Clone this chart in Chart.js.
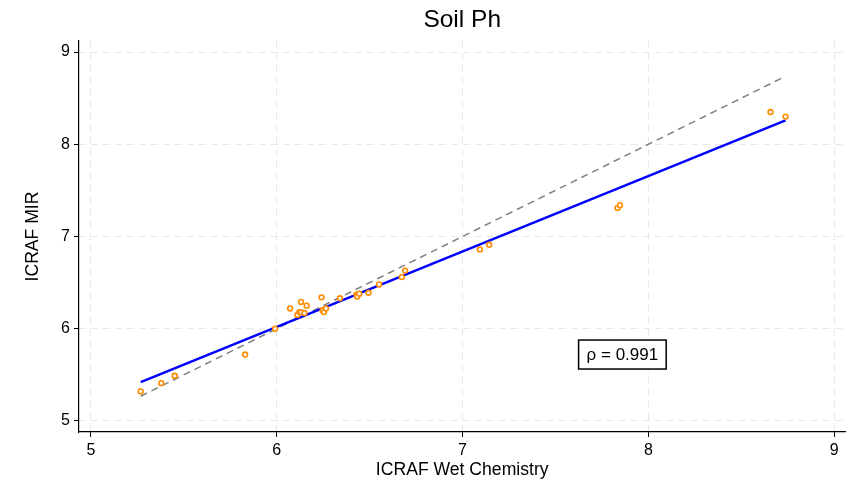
<!DOCTYPE html>
<html>
<head>
<meta charset="utf-8">
<script src="https://cdn.jsdelivr.net/npm/chart.js@4"></script>
<style>
  html, body { margin: 0; padding: 0; background: #fff; }
  #wrap { width: 851px; height: 483px; }
</style>
</head>
<body>
<div id="wrap"><canvas id="soil_chart"></canvas></div>
<script>
// wet chemistry (x) vs MIR prediction (y)
var wetChem = [5.268, 5.379, 5.451, 5.830, 5.991, 6.072, 6.131, 6.161, 6.111, 6.122, 6.131, 6.149,
    6.241, 6.247, 6.254, 6.265, 6.340, 6.429, 6.433, 6.444, 6.494, 6.551,
    6.673, 6.691, 7.093, 7.143, 7.834, 7.847, 8.657, 8.738];
var mir = [5.32, 5.41, 5.49, 5.72, 6.00, 6.22, 6.29, 6.25, 6.15, 6.18, 6.18, 6.17,
    6.34, 6.20, 6.18, 6.22, 6.33, 6.37, 6.35, 6.38, 6.39, 6.48,
    6.56, 6.63, 6.86, 6.91, 7.31, 7.34, 8.35, 8.30];
// fitted line and 1:1 line
var fitX = [5.268, 8.738];
var fitY = [5.42, 8.26];
var oneToOne = [5.268, 8.738];
var xTicks = [5, 6, 7, 8, 9];
var yTicks = [5, 6, 7, 8, 9];
var chartTitle = "Soil Ph";
var rhoLabel = "\u03C1 = 0.991";

var font = "'Liberation Sans', Arial, sans-serif";

function toPoints(xs, ys) {
    return xs.map(function (x, i) { return { x: x, y: ys[i] }; });
}

// title centred over the plot area (stata style) + correlation box
var extras = {
    id: "extras",
    afterDatasetsDraw: function (chart) {
        var ctx = chart.ctx;
        var area = chart.chartArea;
        ctx.save();
        ctx.fillStyle = "#000";
        ctx.textAlign = "center";
        ctx.textBaseline = "alphabetic";
        ctx.font = "24.5px " + font;
        ctx.fillText(chartTitle, (area.left + area.right) / 2, 27);

        var cx = chart.scales.x.getPixelForValue(7.86);
        var cy = chart.scales.y.getPixelForValue(5.72);
        ctx.font = "17px " + font;
        var w = ctx.measureText(rhoLabel).width + 16;
        var h = 29;
        ctx.fillStyle = "#fff";
        ctx.fillRect(cx - w / 2, cy - h / 2, w, h);
        ctx.strokeStyle = "#000";
        ctx.lineWidth = 1.5;
        ctx.strokeRect(cx - w / 2, cy - h / 2, w, h);
        ctx.fillStyle = "#000";
        ctx.textBaseline = "middle";
        ctx.fillText(rhoLabel, cx, cy + 1);
        ctx.restore();
    }
};

var gridOpts = {
    color: "#e8e8e8",
    tickColor: "#000",
    tickLength: 5,
    tickWidth: 1
};

new Chart("soil_chart", {
    type: "scatter",
    data: {
        datasets: [
            {
                data: toPoints(wetChem, mir),
                borderColor: "#ff8c00",
                backgroundColor: "#ffffff",
                pointRadius: 2.4,
                pointBorderWidth: 1.6,
                order: 0
            },
            {
                type: "line",
                data: toPoints(fitX, fitY),
                borderColor: "#0000ff",
                borderWidth: 2.5,
                pointRadius: 0,
                fill: false,
                order: 1
            },
            {
                type: "line",
                data: toPoints(oneToOne, oneToOne),
                borderColor: "#808080",
                borderWidth: 1.5,
                borderDash: [7, 5],
                pointRadius: 0,
                fill: false,
                order: 2
            }
        ]
    },
    options: {
        responsive: true,
        maintainAspectRatio: false,
        animation: false,
        layout: { padding: { top: 41, right: 4, left: 0, bottom: 0 } },
        plugins: {
            legend: { display: false },
            tooltip: { enabled: false }
        },
        scales: {
            x: {
                type: "linear",
                min: 4.936,
                max: 9.06,
                afterBuildTicks: function (s) { s.ticks = xTicks.map(function (v) { return { value: v }; }); },
                afterFit: function (s) { s.height = 51; },
                ticks: { color: "#000", font: { family: font, size: 16 }, padding: 4, maxRotation: 0 },
                grid: gridOpts,
                border: { display: true, color: "#000", width: 1.2, dash: [7, 5] },
                title: {
                    display: true,
                    text: "ICRAF Wet Chemistry",
                    color: "#000",
                    font: { family: font, size: 17.6 },
                    padding: { top: 0, bottom: 2.5 }
                }
            },
            y: {
                type: "linear",
                min: 4.88,
                max: 9.12,
                afterBuildTicks: function (s) { s.ticks = yTicks.map(function (v) { return { value: v }; }); },
                afterFit: function (s) { s.width = 79; },
                ticks: { color: "#000", font: { family: font, size: 16 }, padding: 4 },
                grid: gridOpts,
                border: { display: true, color: "#000", width: 1.2, dash: [7, 5] },
                title: {
                    display: true,
                    text: "ICRAF MIR",
                    color: "#000",
                    font: { family: font, size: 17.6 },
                    padding: { top: 23, bottom: 0 }
                }
            }
        }
    },
    plugins: [extras]
});
</script>
</body>
</html>
